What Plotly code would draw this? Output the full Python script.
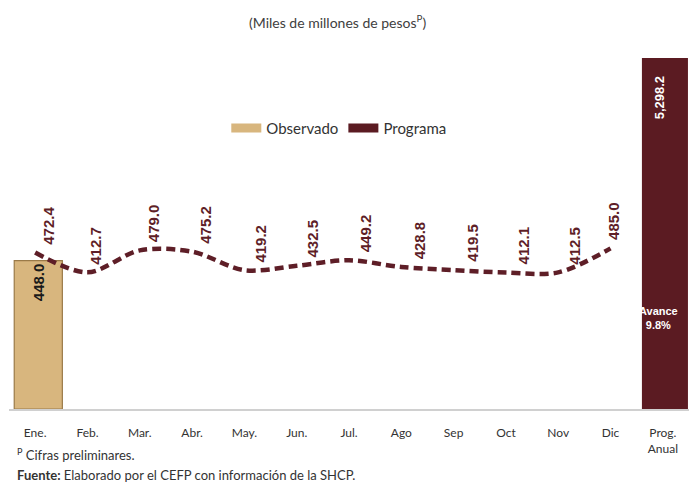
import plotly.graph_objects as go

# ---- data ----
months = ["Ene.", "Feb.", "Mar.", "Abr.", "May.", "Jun.", "Jul.", "Ago", "Sep", "Oct", "Nov", "Dic"]
annual_cat = "Prog.<br>Anual"
categories = months + [annual_cat]
observado = [448.0]                      # Ene. only
programa = [472.4, 412.7, 479.0, 475.2, 419.2, 432.5, 449.2, 428.8, 419.5, 412.1, 412.5, 485.0]
prog_anual = 5298.2
avance_pct = 9.8

# ---- styles ----
TAN = "#D8B67E"
TAN_EDGE = "#9A7A48"
MAROON = "#5B1B22"
LINE_C = "#5E1E27"
FONT = "Lato"
label_xshift = [13, 8, 14, 14, 16, 16, 16, 18, 18, 18, 16, 3]

fig = go.Figure()

fig.add_trace(go.Bar(
    x=months[:len(observado)], y=observado, name="Observado", showlegend=False,
    marker=dict(color=TAN, line=dict(color=TAN_EDGE, width=1.2)),
    width=0.92, offset=-0.4,
    text=[f"{v:.1f}" for v in observado], textposition="inside",
    textangle=-90, insidetextanchor="end",
    textfont=dict(family="Liberation Sans", size=15, color="#1a1a1a", weight="bold"),
    cliponaxis=True,
))

fig.add_trace(go.Bar(
    x=[annual_cat], y=[prog_anual], name="Programa", showlegend=False,
    marker=dict(color=MAROON, line=dict(width=0)),
    width=0.88, offset=-0.4, cliponaxis=True,
))

fig.add_trace(go.Scatter(
    x=months, y=programa, mode="lines", showlegend=False,
    line=dict(color=LINE_C, width=4.5, dash="9px,5px", shape="spline", smoothing=0.9),
))

# legend entries (wide rectangular swatches)
for nm, col in [("Observado", TAN), ("Programa", MAROON)]:
    fig.add_trace(go.Scatter(x=[None], y=[None], mode="lines", name=nm,
                             line=dict(color=col, width=9)))

for i, (m, v) in enumerate(zip(months, programa)):
    fig.add_annotation(
        x=m, y=v, text=f"{v:.1f}", textangle=-90, showarrow=False,
        yanchor="bottom", xanchor="center", yshift=6, xshift=label_xshift[i],
        font=dict(family="Liberation Sans", size=15, color=LINE_C, weight="bold"),
    )

fig.add_annotation(
    x=annual_cat, y=1, yref="paper", text=f"{prog_anual:,.1f}", textangle=-90,
    showarrow=False, yanchor="top", yshift=-16, xshift=-3,
    font=dict(family="Liberation Sans", size=13, color="white", weight="bold"),
)
fig.add_annotation(
    x=annual_cat, y=0.26, yref="paper", text=f"Avance<br>{avance_pct:.1f}%",
    showarrow=False, yanchor="middle", xshift=-4,
    font=dict(family="Liberation Sans", size=11, color="white", weight="bold"),
)

# footnotes
fig.add_annotation(
    x=0.009, xref="paper", y=-0.131, yref="paper", xanchor="left", yanchor="middle",
    text="<sup>P</sup> Cifras preliminares.", showarrow=False,
    font=dict(family=FONT, size=13, color="#333333"),
)
fig.add_annotation(
    x=0.009, xref="paper", y=-0.188, yref="paper", xanchor="left", yanchor="middle",
    text="<b>Fuente:</b> Elaborado por el CEFP con información de la SHCP.", showarrow=False,
    font=dict(family=FONT, size=13, color="#333333"),
)

fig.update_layout(
    width=689, height=487,
    margin=dict(l=9, r=0, t=58, b=78),
    paper_bgcolor="white", plot_bgcolor="white",
    title=dict(text="(Miles de millones de pesos<sup>P</sup>)", x=0.49, xanchor="center",
               y=0.953, yanchor="middle",
               font=dict(family=FONT, size=14, color="#404040")),
    barmode="overlay",
    showlegend=True,
    legend=dict(orientation="h", x=0.485, xanchor="center", y=0.80, yanchor="middle",
                font=dict(family=FONT, size=15, color="#333333"),
                bgcolor="rgba(0,0,0,0)", traceorder="normal", itemwidth=30),
    xaxis=dict(categoryorder="array", categoryarray=categories, range=[-0.5, 12.5],
               showline=True, linecolor="#D0D0D0", linewidth=2, ticks="",
               tickfont=dict(family=FONT, size=12, color="#333333"),
               ticklabelstandoff=12, showgrid=False, fixedrange=True),
    yaxis=dict(range=[0, 1060], visible=False, showgrid=False, fixedrange=True),
)

fig.write_html("out.html", config={"displayModeBar": False},
               post_script="document.body.style.margin='0';document.body.style.overflow='hidden';")
